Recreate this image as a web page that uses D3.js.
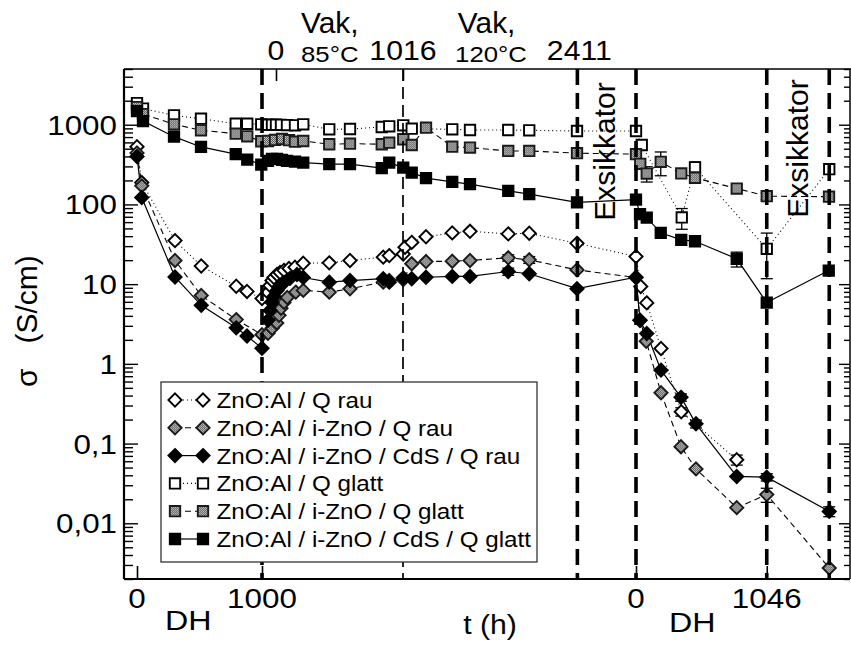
<!DOCTYPE html>
<html>
<head>
<meta charset="utf-8">
<script src="https://cdn.jsdelivr.net/npm/d3@7"></script>
<style>
  html, body { margin: 0; padding: 0; background: #fff; }
  svg { display: block; font-family: "Liberation Sans", Arial, Helvetica, sans-serif; }
</style>
</head>
<body>
<svg id="chart" width="851" height="646"></svg>
<script>
// ---- time axis: damp-heat (DH), vacuum anneals (Vak) and a second DH run on one hour scale ----
const DH1_OFFSET = 0;
const VAK_OFFSET = 1112;
const DH2_OFFSET = 3992;
const dh1Ticks = [0, 1000];
const vakTicks = [0, 1016, 2411];
const dh2Ticks = [0, 1046];

// vertical period markers: [offset, hours, heavy?]
const periodLines = [
  [DH1_OFFSET, 1000, true],
  [VAK_OFFSET, 1016, false],
  [VAK_OFFSET, 2411, true],
  [DH2_OFFSET, 0, true],
  [DH2_OFFSET, 1046, true],
  [DH2_OFFSET, 1546, true]
];

// desiccator storage captions: [offset, hours at caption baseline]
const storageCaptions = [
  [VAK_OFFSET, 2411 + 304],
  [DH2_OFFSET, 1046 + 330]
];

const yMajor = [1000, 100, 10, 1, 0.1, 0.01];
const yMajorLabels = ["1000", "100", "10", "1", "0,1", "0,01"];

const seriesNames = [
  "ZnO:Al / Q rau",
  "ZnO:Al / i-ZnO / Q rau",
  "ZnO:Al / i-ZnO / CdS / Q rau",
  "ZnO:Al / Q glatt",
  "ZnO:Al / i-ZnO / Q glatt",
  "ZnO:Al / i-ZnO / CdS / Q glatt"
];

// measurements: [t (h, running), sigma (S/cm), error +/- (S/cm, optional)]
const qRau = [
  [0, 530], [38, 188], [304, 35.2], [514, 16.9], [794, 9.4], [880, 8.1], [1000, 6.6],
  [1048, 7.9], [1064, 9.6], [1080, 11.1], [1096, 12.1], [1120, 13.2], [1144, 14.0],
  [1176, 14.9], [1216, 15.7], [1264, 16.3], [1330, 18.3], [1538, 18.5], [1704, 19.8],
  [1970, 21.8], [2018, 22.8], [2130, 23.9], [2144, 29], [2198, 33.4], [2312, 39.3],
  [2522, 43.9], [2664, 46], [2970, 42.7], [3138, 43.5], [3520, 32.5],
  [3992, 22.2], [4030, 9.35], [4078, 5.82], [4192, 1.56], [4354, 0.251, 0.03], [4798, 0.0627, 0.009]
];
const iZnoRau = [
  [0, 443], [38, 171], [304, 19.8], [514, 7.2], [794, 3.59], [1000, 2.32],
  [1048, 2.42], [1080, 2.8], [1118, 3.26], [1136, 4.06], [1152, 4.98], [1176, 5.9],
  [1202, 6.8], [1270, 7.94], [1330, 8.34], [1538, 7.94], [1704, 8.76], [1970, 10.6],
  [2018, 11.1], [2130, 11.4], [2198, 18], [2312, 19.2], [2522, 19.4], [2664, 19.8],
  [2970, 21.4, 2], [3138, 20.2, 2], [3520, 15.1],
  [3992, 12.1], [4024, 3.52], [4074, 1.92], [4192, 0.434], [4352, 0.0914], [4472, 0.0481],
  [4798, 0.0157], [5038, 0.0229, 0.0046], [5538, 0.00275]
];
const cdsRau = [
  [0, 400], [38, 122], [304, 12.3], [514, 5.42], [794, 2.83], [880, 2.24], [1000, 1.57],
  [1048, 3.52], [1064, 4.68], [1080, 5.9], [1096, 7.0], [1120, 8.3], [1144, 9.4],
  [1176, 10.5], [1224, 11.8], [1280, 13.2], [1330, 12.1], [1538, 10.6], [1704, 11.1],
  [1970, 11.7], [2018, 10.6], [2130, 12.0], [2198, 11.7], [2312, 12.2], [2522, 12.5],
  [2664, 12.5], [2970, 14.4, 1.5], [3138, 13.5], [3520, 8.78],
  [3992, 12.2], [4024, 3.52], [4078, 2.40], [4192, 0.834], [4352, 0.38, 0.04],
  [4472, 0.177, 0.02], [4798, 0.0387], [5038, 0.0379, 0.004], [5538, 0.0141, 0.002]
];
const qGlatt = [
  [0, 1866], [48, 1594], [296, 1311], [512, 1189], [790, 1029], [882, 1029], [994, 1012],
  [1048, 1000], [1080, 996], [1112, 1000], [1152, 996], [1200, 990], [1264, 983],
  [1330, 1012], [1538, 876], [1704, 883], [1958, 936], [2018, 955], [2130, 983],
  [2198, 891], [2522, 876], [2664, 859], [2970, 859], [3138, 851], [3520, 834, 60],
  [3992, 834, 60], [4038, 557], [4358, 68.8, 20], [4464, 292, 48], [5038, 27.7, 16], [5538, 277]
];
const iZnoGlatt = [
  [0, 1663], [48, 1361], [296, 1012], [512, 851], [790, 772], [882, 716], [994, 620],
  [1048, 625], [1104, 644], [1160, 662], [1216, 640], [1264, 613], [1330, 625],
  [1538, 569], [1704, 579], [1958, 569], [2018, 596], [2130, 657], [2198, 557],
  [2312, 917], [2522, 531], [2664, 516], [2970, 469], [3138, 469], [3520, 439, 40],
  [3992, 427, 40], [4026, 323], [4078, 244, 53], [4190, 342, 113], [4354, 245],
  [4464, 216], [4798, 158], [5038, 127, 12], [5536, 125, 12]
];
const cdsGlatt = [
  [0, 1483], [48, 1112], [296, 708], [512, 526], [790, 427], [882, 365], [994, 316],
  [1048, 352], [1080, 373], [1120, 373], [1160, 362], [1200, 352], [1264, 345],
  [1330, 335], [1538, 320], [1704, 320], [1958, 285], [2018, 335], [2130, 290],
  [2198, 251], [2312, 214], [2522, 192], [2664, 180], [2970, 148], [3138, 135],
  [3520, 106], [3992, 115], [4024, 75.4], [4078, 68.2], [4190, 44], [4354, 35.9],
  [4464, 34.5], [4798, 20.8, 4.4], [5038, 5.87], [5534, 14.8]
];

// ---- drawing ----
const svg = d3.select("#chart");
const plot = { left: 124, right: 850, top: 69, bottom: 579 };

const x = d3.scaleLinear().domain([-104, 5704]).range([plot.left, plot.right]);
const y = d3.scaleLog().domain([0.002, 5000]).range([plot.bottom, plot.top]);

// stretched sans label helper
function label(parent, px, py, str, size, anchor = "middle", sx = 1.12) {
  return parent.append("text")
    .attr("transform", `translate(${px},${py}) scale(${sx},1)`)
    .attr("text-anchor", anchor)
    .attr("font-size", size)
    .attr("fill", "#000")
    .text(str);
}

// grainy grey fill for the i-ZnO samples
const defs = svg.append("defs");
const pat = defs.append("pattern").attr("id", "grain")
  .attr("width", 2).attr("height", 2).attr("patternUnits", "userSpaceOnUse");
pat.append("rect").attr("width", 2).attr("height", 2).attr("fill", "#5c5c5c");
pat.append("rect").attr("x", 0).attr("y", 0).attr("width", 1).attr("height", 1).attr("fill", "#cfcfcf");
pat.append("rect").attr("x", 1).attr("y", 1).attr("width", 1).attr("height", 1).attr("fill", "#b5b5b5");

const styles = [
  { data: qRau,      shape: "diamond", fill: "#fff",         stroke: "#000", dash: "1,3", lw: 1.1 },
  { data: iZnoRau,   shape: "diamond", fill: "url(#grain)",  stroke: "#1a1a1a", dash: "6,4", lw: 1.1 },
  { data: cdsRau,    shape: "diamond", fill: "#000",         stroke: "#000", dash: null,  lw: 1.2 },
  { data: qGlatt,    shape: "square",  fill: "#fff",         stroke: "#000", dash: "1,3", lw: 1.1 },
  { data: iZnoGlatt, shape: "square",  fill: "url(#grain)",  stroke: "#1a1a1a", dash: "6,4", lw: 1.1 },
  { data: cdsGlatt,  shape: "square",  fill: "#000",         stroke: "#000", dash: null,  lw: 1.2 }
];

function markerPath(shape) {
  if (shape === "diamond") { const r = 6.6; return `M0,${-r}L${r},0L0,${r}L${-r},0Z`; }
  const h = 5.2; return `M${-h},${-h}H${h}V${h}H${-h}Z`;
}

const clip = defs.append("clipPath").attr("id", "plotclip");
clip.append("rect").attr("x", plot.left).attr("y", plot.top)
  .attr("width", plot.right - plot.left).attr("height", plot.bottom - plot.top);

const dataLayer = svg.append("g").attr("clip-path", "url(#plotclip)");

const line = d3.line().x(d => x(d[0])).y(d => y(d[1]));

// connecting lines
styles.forEach(s => {
  dataLayer.append("path")
    .attr("d", line(s.data))
    .attr("fill", "none")
    .attr("stroke", "#000")
    .attr("stroke-width", s.lw)
    .attr("stroke-dasharray", s.dash);
});

// error bars
styles.forEach(s => {
  s.data.filter(d => d[2]).forEach(d => {
    const g = dataLayer.append("g").attr("stroke", "#000").attr("stroke-width", 1.3);
    const cx = x(d[0]), y1 = y(d[1] + d[2]), y2 = y(d[1] - d[2]);
    g.append("line").attr("x1", cx).attr("x2", cx).attr("y1", y1).attr("y2", y2);
    g.append("line").attr("x1", cx - 6).attr("x2", cx + 6).attr("y1", y1).attr("y2", y1);
    g.append("line").attr("x1", cx - 6).attr("x2", cx + 6).attr("y1", y2).attr("y2", y2);
  });
});

// markers
styles.forEach(s => {
  dataLayer.selectAll(null).data(s.data).enter().append("path")
    .attr("d", markerPath(s.shape))
    .attr("transform", d => `translate(${x(d[0])},${y(d[1])})`)
    .attr("fill", s.fill)
    .attr("stroke", s.stroke)
    .attr("stroke-width", 1.9);
});

// period boundaries
periodLines.forEach(([off, h, heavy]) => {
  const px = x(off + h);
  svg.append("line")
    .attr("x1", px).attr("x2", px).attr("y1", plot.top).attr("y2", plot.bottom)
    .attr("stroke", "#000")
    .attr("stroke-width", heavy ? 3.6 : 1.7)
    .attr("stroke-dasharray", heavy ? "16,8" : "12,6");
});

// y ticks: decades + minor ticks, inward on both sides
const yMinor = [];
for (let e = -3; e <= 3; e++) for (let k = 2; k <= 9; k++) {
  const v = k * Math.pow(10, e);
  if (v >= 0.002 && v <= 5000) yMinor.push(v);
}
const axisL = svg.append("g").attr("transform", `translate(${plot.left},0)`);
axisL.call(d3.axisRight(y).tickValues(yMajor).tickSize(14).tickFormat(""));
axisL.append("g").call(d3.axisRight(y).tickValues(yMinor).tickSize(9).tickFormat(""));
const axisR = svg.append("g").attr("transform", `translate(${plot.right},0)`);
axisR.call(d3.axisLeft(y).tickValues(yMajor).tickSize(11).tickFormat(""));
axisR.append("g").call(d3.axisLeft(y).tickValues(yMinor).tickSize(6).tickFormat(""));
svg.selectAll(".domain").remove();
svg.selectAll(".tick line").attr("stroke", "#000").attr("stroke-width", 1.4);

yMajor.forEach((v, i) => label(svg, 117, y(v) + 10, yMajorLabels[i], 28, "end"));

// x axes: the two DH stretches at the bottom, the vacuum anneal on top
function segScale(off) {
  return d3.scaleLinear().domain(x.domain().map(t => t - off)).range(x.range());
}
const xDh1 = segScale(DH1_OFFSET), xVak = segScale(VAK_OFFSET), xDh2 = segScale(DH2_OFFSET);
[[xDh1, dh1Ticks], [xDh2, dh2Ticks]].forEach(([sc, ticks]) => {
  const g = svg.append("g").attr("transform", `translate(0,${plot.bottom})`)
    .call(d3.axisTop(sc).tickValues(ticks).tickSize(13).tickFormat(""));
  g.select(".domain").remove();
  g.selectAll(".tick line").attr("stroke", "#000").attr("stroke-width", 1.6);
  ticks.forEach(t => label(svg, sc(t), 608, String(t), 28));
});
const gTop = svg.append("g").attr("transform", `translate(0,${plot.top})`)
  .call(d3.axisBottom(xVak).tickValues(vakTicks).tickSize(12).tickFormat(""));
gTop.select(".domain").remove();
gTop.selectAll(".tick line").attr("stroke", "#000").attr("stroke-width", 1.6);
vakTicks.forEach(t => label(svg, xVak(t) + (t === 2411 ? 2 : 0), 60, String(t), 27));

// vacuum anneal captions
label(svg, xVak(430), 33, "Vak,", 29, "middle", 1.03);
label(svg, xVak(430), 62, "85°C", 23, "middle", 1.12);
label(svg, xVak(1685), 33, "Vak,", 29, "middle", 1.03);
label(svg, xVak(1720), 62, "120°C", 23, "middle", 1.12);

// axis titles
label(svg, xDh1(410), 630, "DH", 28, "middle", 1.15);
label(svg, xDh2(450), 632, "DH", 28, "middle", 1.15);
label(svg, 490, 634, "t (h)", 27, "middle", 1.12);

const yTitle = svg.append("text")
  .attr("transform", "translate(37,387) rotate(-90)")
  .attr("font-size", 30).attr("text-anchor", "start");
yTitle.append("tspan").text("σ");
yTitle.append("tspan").attr("dx", 25).text("(S/cm)");

// desiccator storage
storageCaptions.forEach(([off, h], i) => {
  const px = x(off + h);
  svg.append("text")
    .attr("transform", `translate(${px},${i === 0 ? 151.5 : 148.5}) rotate(-90)`)
    .attr("text-anchor", "middle").attr("font-size", 30)
    .text("Exsikkator");
});

// frame
const frame = svg.append("g").attr("stroke", "#000").attr("fill", "none");
frame.append("line").attr("x1", plot.left).attr("x2", plot.left).attr("y1", plot.top).attr("y2", plot.bottom).attr("stroke-width", 2.2);
frame.append("line").attr("x1", plot.left).attr("x2", plot.right).attr("y1", plot.bottom).attr("y2", plot.bottom).attr("stroke-width", 2.2);
frame.append("line").attr("x1", plot.left).attr("x2", 851).attr("y1", plot.top).attr("y2", plot.top).attr("stroke-width", 1.7);
frame.append("line").attr("x1", plot.right).attr("x2", plot.right).attr("y1", plot.top).attr("y2", plot.bottom).attr("stroke-width", 1.5);

// legend
const lg = svg.append("g");
lg.append("rect").attr("x", 161).attr("y", 382).attr("width", 376).attr("height", 180)
  .attr("fill", "#fff").attr("stroke", "#333").attr("stroke-width", 1.3);
styles.forEach((s, i) => {
  const cy = 400 + i * 27.8;
  lg.append("line").attr("x1", 175).attr("x2", 203).attr("y1", cy).attr("y2", cy)
    .attr("stroke", "#000").attr("stroke-width", s.lw).attr("stroke-dasharray", s.dash);
  [175, 203].forEach(mx => {
    lg.append("path").attr("d", markerPath(s.shape))
      .attr("transform", `translate(${mx},${cy})`)
      .attr("fill", s.fill).attr("stroke", s.stroke).attr("stroke-width", 1.9);
  });
  label(lg, 216.5, cy + 8, seriesNames[i], 22, "start", 1.1);
});
</script>
</body>
</html>
